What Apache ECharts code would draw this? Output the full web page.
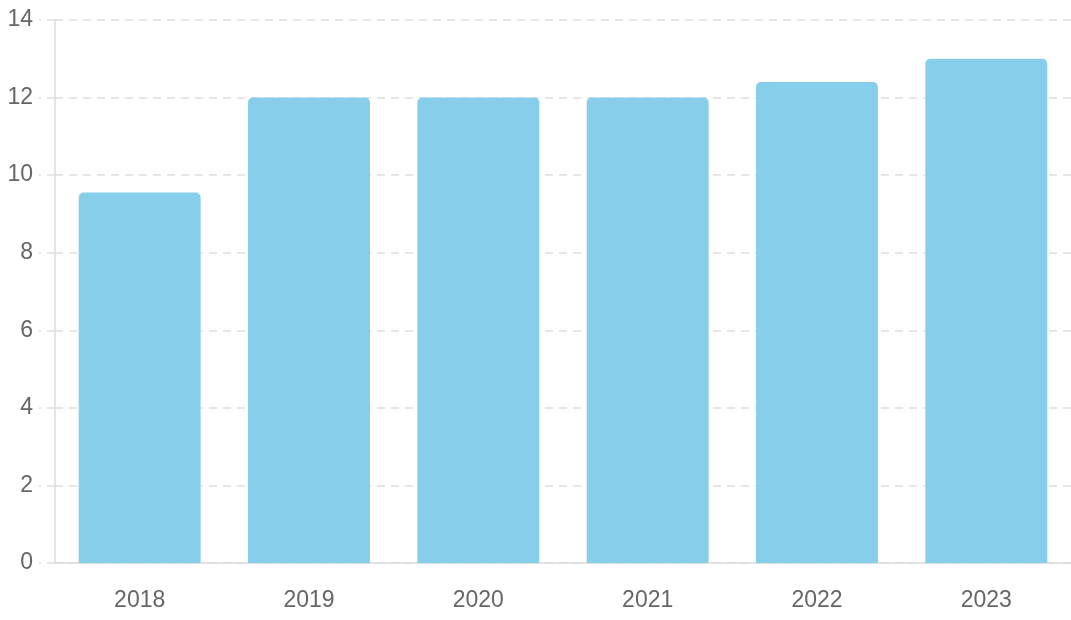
<!DOCTYPE html>
<html><head><meta charset="utf-8">
<script src="https://cdn.jsdelivr.net/npm/echarts@6/dist/echarts.min.js"></script>
<style>html,body{margin:0;padding:0;background:#fff}#c{width:1071px;height:620px}</style>
</head><body><div id="c"></div>
<script>
const categories = ['2018','2019','2020','2021','2022','2023'];
const values = [9.55, 12, 12, 12, 12.4, 13];
const chart = echarts.init(document.getElementById('c'));
chart.setOption({
  animation: false,
  grid: {left: 55, right: 0, top: 20, bottom: 57},
  xAxis: {
    type: 'category', data: categories,
    axisLine: {lineStyle: {color: '#dddddd', width: 1.5}},
    axisTick: {show: false},
    axisLabel: {color: '#666', fontSize: 23, fontFamily: 'Liberation Sans', margin: 26}
  },
  yAxis: {
    type: 'value', min: 0, max: 14, interval: 2,
    axisLine: {show: true, lineStyle: {color: '#dddddd', width: 1.5}},
    axisTick: {show: true, length: 16, lineStyle: {color: '#e0e0e0', width: 1.5, type: [8,6]}},
    splitLine: {lineStyle: {color: '#e0e0e0', width: 1.5, type: [8,6]}},
    axisLabel: {color: '#666', fontSize: 23, fontFamily: 'Liberation Sans', margin: 22}
  },
  series: [{
    type: 'bar', data: values, barCategoryGap: '28%',
    itemStyle: {color: '#87CEEB', borderRadius: [5,5,0,0]}
  }]
});
</script></body></html>
